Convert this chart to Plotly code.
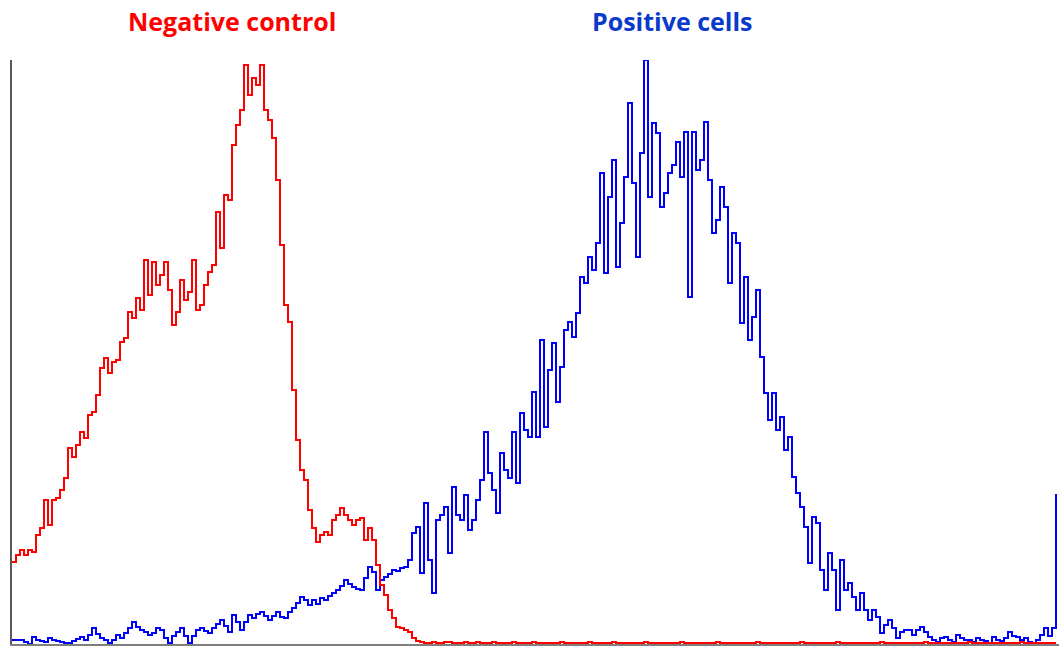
import plotly.graph_objects as go

# Histogram counts per channel (fluorescence intensity bins)
negative_counts = [
    82, 89, 94, 89, 94, 92, 109, 116, 144, 119, 144, 146, 154, 166, 196, 187,
    199, 212, 206, 229, 232, 249, 276, 286, 271, 282, 284, 302, 306, 332, 326, 346,
    334, 384, 349, 382, 359, 369, 382, 354, 319, 332, 364, 344, 352, 384, 334, 339,
    359, 372, 379, 432, 396, 449, 444, 499, 519, 534, 579, 549, 566, 559, 579, 534,
    524, 506, 464, 399, 339, 322, 254, 204, 174, 164, 134, 116, 102, 109, 112, 109,
    124, 129, 136, 129, 124, 119, 124, 126, 104, 116, 104, 79, 59, 49, 34, 26,
    17, 16, 14, 12, 6, 3,
    2, 1, 1, 2, 1, 1, 2, 2, 1, 1, 1, 2, 1, 1, 2, 1,
    1, 1, 2, 1, 1, 1, 1, 2, 1, 1, 1, 1, 2, 1, 1, 1,
    1, 1, 1, 2, 1, 1, 1, 1, 1, 1, 2, 1, 1, 1, 1, 1,
    2, 1, 1, 1, 1, 1, 1, 1, 2, 1, 1, 1, 1, 1, 1, 1,
    1, 2, 1, 1, 1, 1, 1, 1, 1, 1, 2, 1, 1, 1, 1, 1,
    1, 1, 1, 1, 2, 1, 1, 1, 1, 1, 1, 1, 1, 1, 1, 2,
    1, 1, 1, 1, 1, 1, 1, 1, 2, 1, 1, 1, 1, 1, 1, 1,
    1, 1, 1, 2, 1, 1, 1, 1, 1, 1, 1, 1, 1, 1, 2, 1,
    1, 1, 1, 1, 1, 1, 1, 1, 1, 2, 1, 1, 1, 1, 1, 1,
    1, 1, 1, 1, 1, 1, 2, 1, 1, 1, 1, 1, 1, 1, 1, 1,
]

positive_counts = [
    4, 4, 4, 2, 0, 7, 4, 3, 2, 6, 4, 3, 2, 1, 1, 3,
    5, 7, 4, 9, 16, 10, 6, 4, 1, 4, 9, 6, 11, 16, 22, 17,
    14, 12, 9, 11, 16, 14, 6, 1, 8, 12, 16, 8, 1, 8, 14, 16,
    13, 11, 16, 20, 24, 18, 12, 29, 22, 14, 22, 29, 26, 30, 32, 28,
    24, 28, 32, 27, 26, 32, 36, 41, 47, 44, 39, 44, 40, 46, 44, 48,
    51, 54, 58, 64, 60, 57, 55, 54, 66, 77, 72, 54, 64, 67, 70, 74,
    73, 76, 77, 84, 111, 117, 71, 141, 84, 51, 124, 129, 137, 91, 157, 129,
    124, 149, 114, 124, 144, 164, 212, 171, 154, 131, 191, 174, 166, 212, 161, 231,
    214, 207, 252, 207, 304, 217, 274, 301, 242, 277, 314, 322, 307, 331, 367, 361,
    387, 374, 401, 471, 371, 447, 484, 377, 421, 467, 541, 461, 387, 491, 584, 447,
    521, 511, 437, 451, 471, 479, 502, 467, 512, 347, 512, 474, 484, 522, 464, 411,
    424, 457, 437, 361, 411, 401, 321, 367, 304, 327, 354, 287, 251, 224, 251, 214,
    227, 194, 207, 167, 151, 137, 117, 81, 127, 121, 74, 54, 91, 74, 34, 84,
    54, 61, 47, 34, 51, 34, 24, 34, 27, 11, 19, 24, 16, 6, 12, 14,
    14, 9, 14, 17, 12, 7, 4, 2, 6, 7, 4, 2, 9, 6, 4, 4,
    2, 6, 4, 3, 1, 7, 4, 3, 6, 12, 8, 7, 4, 6, 2, 1,
    4, 9, 16, 8, 16, 150,
]

channels = list(range(len(positive_counts)))

series_titles = ["Negative control", "Positive cells"]
title_channels = [55, 165]

line_red = "#ff0000"
line_blue = "#0000ff"
title_blue = "#0a3acc"

fig = go.Figure()

fig.add_trace(go.Scatter(
    x=channels, y=positive_counts, mode="lines",
    line=dict(color=line_blue, width=2, shape="hv"),
    hoverinfo="skip", showlegend=False,
))
fig.add_trace(go.Scatter(
    x=channels, y=negative_counts, mode="lines",
    line=dict(color=line_red, width=2, shape="hv"),
    hoverinfo="skip", showlegend=False,
))

for text, ch, col in zip(series_titles, title_channels, [line_red, title_blue]):
    fig.add_annotation(
        x=ch, xref="x", y=1.066, yref="paper",
        text=f"<b>{text}</b>", showarrow=False,
        font=dict(family="Open Sans, sans-serif", size=25, color=col),
        xanchor="center", yanchor="middle",
    )

fig.update_layout(
    width=1059, height=646,
    margin=dict(l=12, r=0, t=60, b=2),
    paper_bgcolor="white", plot_bgcolor="white",
    xaxis=dict(
        range=[0, len(positive_counts) - 0.25],
        showgrid=False, zeroline=False, showticklabels=False, ticks="",
        showline=True, linecolor="#7f7f7f", linewidth=1.5,
    ),
    yaxis=dict(
        range=[0, 584],
        showgrid=False, zeroline=False, showticklabels=False, ticks="",
        showline=True, linecolor="#595959", linewidth=1.5,
    ),
)

fig.write_html("out.html")
